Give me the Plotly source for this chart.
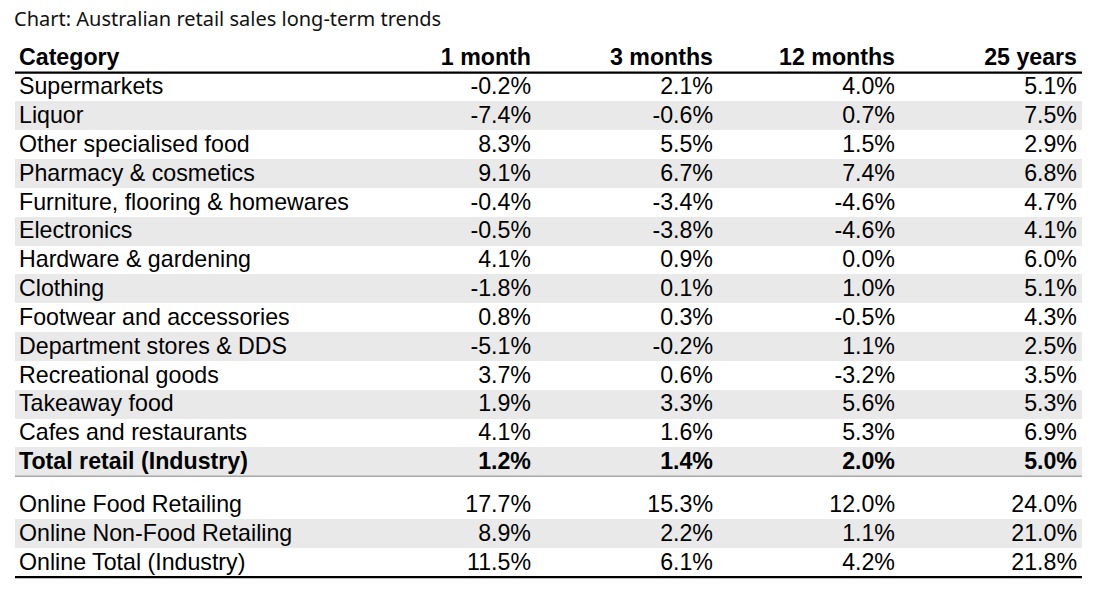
import plotly.graph_objects as go

title = "Chart: Australian retail sales long-term trends"
headers = ["Category", "1 month", "3 months", "12 months", "25 years"]
categories = [
    "Supermarkets", "Liquor", "Other specialised food", "Pharmacy & cosmetics",
    "Furniture, flooring & homewares", "Electronics", "Hardware & gardening",
    "Clothing", "Footwear and accessories", "Department stores & DDS",
    "Recreational goods", "Takeaway food", "Cafes and restaurants",
    "Total retail (Industry)",
    "Online Food Retailing", "Online Non-Food Retailing", "Online Total (Industry)",
]
month_1 = [-0.2, -7.4, 8.3, 9.1, -0.4, -0.5, 4.1, -1.8, 0.8, -5.1, 3.7, 1.9, 4.1, 1.2, 17.7, 8.9, 11.5]
months_3 = [2.1, -0.6, 5.5, 6.7, -3.4, -3.8, 0.9, 0.1, 0.3, -0.2, 0.6, 3.3, 1.6, 1.4, 15.3, 2.2, 6.1]
months_12 = [4.0, 0.7, 1.5, 7.4, -4.6, -4.6, 0.0, 1.0, -0.5, 1.1, -3.2, 5.6, 5.3, 2.0, 12.0, 1.1, 4.2]
years_25 = [5.1, 7.5, 2.9, 6.8, 4.7, 4.1, 6.0, 5.1, 4.3, 2.5, 3.5, 5.3, 6.9, 5.0, 24.0, 21.0, 21.8]
bold_rows = ["Total retail (Industry)"]
striped_rows = [1, 3, 5, 7, 9, 11, 13, 15]

# ---- layout constants (page pixels) ----
PAGE_OFF = 8            # default body margin of the html page
W, H = 1106 - 2 * PAGE_OFF, 599 - 2 * PAGE_OFF
ROW_H = 28.83
ROW0_PX = 87
TABLE_L, TABLE_R = 15, 1082
CAT_X = 19
COL_RIGHT = [531, 713, 895, 1077]
FONT = "Liberation Sans, Arial, sans-serif"
FS = 23.2
TEXT_DY = 1.5 / ROW_H   # text baseline nudge (rows)

n = len(categories)
pos = [i + (0.5 if i >= 14 else 0) for i in range(n)]
tpos = [p + TEXT_DY for p in pos]
y_top = -(ROW0_PX - PAGE_OFF) / ROW_H
y_bot = (H - (ROW0_PX - PAGE_OFF)) / ROW_H

def fmt(v, b):
    s = f"{v:.1f}%"
    return f"<b>{s}</b>" if b else s

fig = go.Figure()

# stripes
fig.add_trace(go.Bar(
    y=[pos[i] for i in striped_rows], x=[TABLE_R - TABLE_L] * len(striped_rows),
    base=TABLE_L, orientation="h", width=1.0,
    marker=dict(color="#e9e9e9", line=dict(width=0)), hoverinfo="skip", showlegend=False))

is_bold = [c in bold_rows for c in categories]

fig.add_trace(go.Scatter(
    x=[CAT_X] * n, y=tpos, mode="text",
    text=[f"<b>{c}</b>" if b else c for c, b in zip(categories, is_bold)],
    textposition="middle right", textfont=dict(family=FONT, size=FS, color="#000"),
    hoverinfo="skip", showlegend=False))

for col, vals in enumerate([month_1, months_3, months_12, years_25]):
    fig.add_trace(go.Scatter(
        x=[COL_RIGHT[col]] * n, y=tpos, mode="text",
        text=[fmt(v, b) for v, b in zip(vals, is_bold)],
        textposition="middle left", textfont=dict(family=FONT, size=FS, color="#000"),
        hoverinfo="skip", showlegend=False))

# header
fig.add_trace(go.Scatter(
    x=[CAT_X], y=[-1 + TEXT_DY], mode="text", text=[f"<b>{headers[0]}</b>"],
    textposition="middle right", textfont=dict(family=FONT, size=FS, color="#000"),
    hoverinfo="skip", showlegend=False))
fig.add_trace(go.Scatter(
    x=COL_RIGHT, y=[-1 + TEXT_DY] * 4, mode="text", text=[f"<b>{h}</b>" for h in headers[1:]],
    textposition="middle left", textfont=dict(family=FONT, size=FS, color="#000"),
    hoverinfo="skip", showlegend=False))

shapes = [
    dict(type="line", xref="x", yref="y", x0=TABLE_L, x1=TABLE_R, y0=-0.5, y1=-0.5,
         line=dict(color="#000", width=2.2)),
    dict(type="line", xref="x", yref="y", x0=TABLE_L, x1=TABLE_R, y0=pos[13] + 0.5, y1=pos[13] + 0.5,
         line=dict(color="#a8a8a8", width=1.5)),
    dict(type="line", xref="x", yref="y", x0=TABLE_L, x1=TABLE_R, y0=pos[-1] + 0.5, y1=pos[-1] + 0.5,
         line=dict(color="#000", width=2.2)),
]

fig.update_layout(
    width=W, height=H, autosize=False,
    margin=dict(l=0, r=0, t=0, b=0),
    paper_bgcolor="white", plot_bgcolor="white",
    xaxis=dict(range=[PAGE_OFF, PAGE_OFF + W], visible=False, fixedrange=True),
    yaxis=dict(range=[y_bot, y_top], visible=False, fixedrange=True),
    shapes=shapes,
    title=dict(text=title, x=(14 - PAGE_OFF) / W, xanchor="left",
               y=1 - (18.5 - PAGE_OFF) / H, yanchor="middle",
               font=dict(family="Noto Sans, Open Sans, sans-serif", size=20, color="#111")),
    bargap=0,
)

fig.write_html("out.html")
